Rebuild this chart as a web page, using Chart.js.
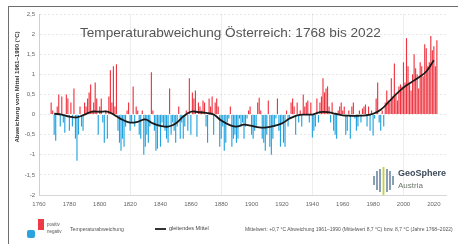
<!DOCTYPE html>
<html><head><meta charset="utf-8">
<script src="https://cdn.jsdelivr.net/npm/chart.js@4/dist/chart.umd.min.js"></script>
<style>
html,body{margin:0;padding:0;background:#fff;width:458px;height:244px;overflow:hidden;font-family:"Liberation Sans",Arial,sans-serif;}
#wrap{position:relative;width:458px;height:244px;overflow:hidden;}
#frame{position:absolute;left:8px;top:6px;width:470px;height:260px;border-top:1.5px solid #6e6e6e;border-left:1.5px solid #6e6e6e;}
canvas{position:absolute;left:0;top:0;}
.t{position:absolute;white-space:nowrap;line-height:1;}
</style></head><body>
<div id="wrap">
<div id="frame"></div>
<canvas id="c" width="458" height="244"></canvas>
<div class="t" style="left:80px;top:26px;font-size:13.6px;color:#555;">Temperaturabweichung Österreich: 1768 bis 2022</div>
<div class="t" style="left:17px;top:87px;font-size:6px;color:#333;font-weight:bold;transform:translate(-50%,-50%) rotate(-90deg);">Abweichung vom Mittel 1961–1990 (°C)</div>
<svg style="position:absolute;left:371px;top:165px" width="26" height="31">
  <g stroke="#6d87a4" stroke-width="1.6">
    <line x1="3" y1="11" x2="3" y2="20"/><line x1="6" y1="6" x2="6" y2="25"/>
    <line x1="9" y1="4" x2="9" y2="27"/><line x1="16" y1="4" x2="16" y2="27"/>
    <line x1="19" y1="6" x2="19" y2="25"/><line x1="22" y1="11" x2="22" y2="20"/>
  </g>
  <line x1="12.5" y1="2" x2="12.5" y2="30" stroke="#c4d22e" stroke-width="1.8"/>
</svg>
<div class="t" style="left:398px;top:169px;font-size:9px;font-weight:bold;color:#3d4b5a;">GeoSphere</div>
<div class="t" style="left:398px;top:182px;font-size:8px;color:#6b7a6a;">Austria</div>
<div style="position:absolute;left:38px;top:219px;width:6px;height:11px;background:#ee3a45;"></div>
<div style="position:absolute;left:27px;top:230px;width:8px;height:8px;background:#2aa3de;border-radius:2px;"></div>
<div class="t" style="left:47px;top:223px;font-size:4.5px;color:#555;">positiv</div>
<div class="t" style="left:47px;top:230px;font-size:4.5px;color:#555;">negativ</div>
<div class="t" style="left:70px;top:227px;font-size:5.2px;color:#555;">Temperaturabweichung</div>
<div style="position:absolute;left:155px;top:228px;width:11px;height:1.5px;background:#333;"></div>
<div class="t" style="left:169px;top:226px;font-size:5.5px;color:#444;">gleitendes Mittel</div>
<div class="t" style="left:245px;top:227px;font-size:5px;color:#555;">Mittelwert: +0,7 °C Abweichung 1961–1990 (Mittelwert 8,7 °C) bzw. 8,7 °C (Jahre 1768–2022)</div>
</div>
<script>
const startYear = 1768;
const anomalies = [
  0.3, 0.1,
  -0.5, -0.65, 0.2, 0.5, -0.3, 0.45, -0.2, -0.45, 0.5, 0.4,
  -0.4, 0.3, -0.3, 0.65, -0.6, -1.15, -0.5, 0.2, -0.3, -0.4,
  0.3, 0.2, 0.4, 0.55, 0.75, 0.1, 0.3, 0.8, 0.4, -0.5,
  0.2, 0.4, -0.2, -0.7, 0.1, -0.6, 0.45, 1.1, 0.3, 1.2,
  0.2, 1.25, -0.4, -0.7, -0.9, -0.6, -0.8, -0.3, 0.1, 0.3,
  -0.4, -0.2, 0.7, -0.3, 0.2, 0.1, -0.5, -0.6, 0.1, -1.0,
  -0.8, -0.5, -0.7, -0.3, 1.05, 0.1, -0.4, -0.9, -0.85, -0.3,
  -0.8, -0.2, -0.3, -0.4, -0.6, -0.7, 0.65, -0.5, -0.2, -0.4,
  -0.7, -0.3, 0.2, -0.6, -0.2, -0.6, -0.3, 0.1, -0.4, 0.9,
  -0.5, 0.55, 0.4, 0.6, -0.55, 0.3, 0.2, 0.1, 0.35, 0.3,
  -0.3, -0.7, 0.4, 0.2, 0.45, -0.5, 0.3, 0.4, 0.2, -0.8,
  -0.6, -0.3, -0.9, -0.7, -0.2, -0.1, 0.2, -0.8, -0.6, -0.5,
  -0.7, -0.6, -0.1, -0.3, -0.2, -0.6, -0.3, -0.1, 0.1, 0.2,
  -0.5, -0.6, -0.4, -0.3, 0.3, 0.42, 0.1, -0.6, -0.7, -0.9,
  -0.5, 0.35, -0.8, -1.0, -0.6, -0.3, -0.1, 0.4, -0.4, -0.8,
  -0.2, -0.7, -0.8, 0.1, -0.3, -0.1, 0.3, 0.4, 0.2, -0.5,
  0.3, -0.2, 0.1, -0.3, 0.5, 0.2, 0.3, 0.35, -0.2, 0.3,
  -0.57, -0.4, -0.3, 0.4, -0.2, 0.3, 0.45, 0.9, 0.55, 0.65,
  0.7, 0.2, -0.2, 0.3, -0.4, -0.5, -0.6, 0.1, 0.2, 0.3,
  0.1, 0.2, -0.5, -0.4, 0.1, -0.6, 0.2, 0.3, -0.1, -0.4,
  -0.3, 0.1, -0.2, 0.15, 0.2, 0.25, -0.3, 0.2, -0.4, 0.1,
  -0.52, -0.1, 0.4, 0.8, -0.2, -0.4, 0.1, -0.3, 0.3, 0.6,
  0.35, 0.3, 0.9, 0.45, 1.27, 0.5, 0.35, 0.7, 0.75, 0.7,
  1.3, 0.8, 1.9, 1.2, 0.75, 0.6, 1.0, 1.5, 1.15, 1.0,
  0.65, 1.3, 1.2, 0.95, 1.75, 1.65, 1.2, 1.3, 1.95, 1.6,
  1.7, 1.2, 1.85
];
const smoothYears = [1770,1775,1780,1785,1790,1795,1800,1805,1810,1815,1820,1825,1830,1835,1840,1845,1850,1855,1860,1865,1870,1875,1880,1885,1890,1895,1900,1905,1910,1915,1920,1925,1930,1935,1940,1945,1950,1955,1960,1965,1970,1975,1980,1985,1990,1995,2000,2005,2010,2015,2020];
const smoothValues = [0.02,0.0,-0.05,-0.07,0.0,0.07,0.07,0.07,-0.02,-0.13,-0.2,-0.18,-0.12,-0.22,-0.28,-0.3,-0.22,-0.05,0.07,0.06,0.04,0.0,-0.15,-0.25,-0.3,-0.25,-0.28,-0.32,-0.32,-0.28,-0.22,-0.1,-0.02,0.0,0.0,0.06,0.06,0.02,-0.02,-0.03,-0.03,-0.02,0.02,0.12,0.3,0.5,0.67,0.8,0.92,1.07,1.35];
const xTickStep = 20;
const yTickStep = 0.5;

const barData = anomalies.map((v, i) => ({x: startYear + i, y: v}));
const lineData = smoothYears.map((yr, i) => ({x: yr, y: smoothValues[i]}));
const RED = '#ef3440', BLUE = '#22a3df';

new Chart(document.getElementById('c'), {
  type: 'bar',
  data: {
    datasets: [
      {type: 'line', data: lineData, borderColor: '#1a1a1a', borderWidth: 1.8, pointRadius: 0, tension: 0.4, order: 0},
      {type: 'bar', data: barData, backgroundColor: ctx => (ctx.raw && ctx.raw.y >= 0) ? RED : BLUE,
       barPercentage: 1, categoryPercentage: 0.75, order: 1}
    ]
  },
  options: {
    responsive: false, animation: false, devicePixelRatio: 1,
    layout: {padding: {left: 0, top: 14, right: 12, bottom: 0}},
    plugins: {legend: {display: false}, tooltip: {enabled: false}, title: {display: false}},
    scales: {
      x: {
        type: 'linear', min: 1760, max: 2028, offset: false,
        afterFit: s => { s.height = 49; },
        grid: {offset: false, drawTicks: false, color: c => (c.tick && c.tick.value % 60 === 20) ? 'rgba(0,0,0,0.07)' : 'rgba(0,0,0,0)'},
        border: {color: '#d8d8d8'},
        ticks: {stepSize: xTickStep, includeBounds: false, padding: 6, color: '#666', font: {size: 6, family: 'Liberation Sans'}, callback: v => String(v), maxRotation: 0, autoSkip: false}
      },
      y: {
        min: -2, max: 2.5,
        afterFit: s => { s.width = 39; },
        grid: {drawTicks: false, color: 'rgba(0,0,0,0.09)'},
        border: {color: '#d0d0d0', dash: [2, 2]},
        ticks: {stepSize: yTickStep, padding: 4, color: '#666', font: {size: 6, family: 'Liberation Sans'}, callback: v => v.toLocaleString('de-DE')}
      }
    }
  }
});
</script>
</body></html>
